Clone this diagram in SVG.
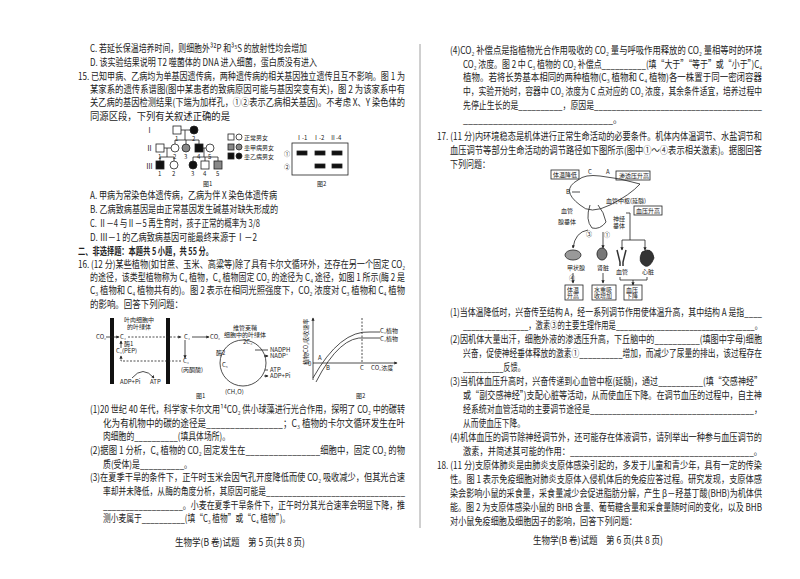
<svg xmlns="http://www.w3.org/2000/svg" width="800" height="579" viewBox="0 0 800 579">
<style>
text{font-family:"Noto Sans CJK SC","Liberation Serif",serif;font-size:10px;fill:#222}
.s{font-size:7px}
.t{font-size:6px}
.b{font-weight:bold}
line,path,rect,circle,polyline{stroke:#222;fill:none;stroke-width:0.8}
.f{fill:#111}
.g{fill:#888}
.bar{stroke:#111;stroke-width:4}
.d{stroke-dasharray:2 1.5}
</style>
<defs><marker id="a" viewBox="0 0 6 6" refX="5" refY="3" markerWidth="4" markerHeight="4" orient="auto"><path d="M0,0L6,3L0,6z" style="fill:#222;stroke:none"/></marker></defs>
<rect x="0" y="0" width="800" height="579" style="fill:#fff;stroke:none"/>
<line x1="420" y1="44" x2="420" y2="528" style="stroke:#888"/>
<g id="left-text">
<text x="90" y="52" textLength="217" lengthAdjust="spacingAndGlyphs">C. 若延长保温培养时间，则细胞外³²P 和³⁵S 的放射性均会增加</text>
<text x="90" y="66" textLength="227" lengthAdjust="spacingAndGlyphs">D. 该实验结果说明 T2 噬菌体的 DNA 进入细菌，蛋白质没有进入</text>
<text x="78" y="80" textLength="327" lengthAdjust="spacingAndGlyphs">15. 已知甲病、乙病均为单基因遗传病，两种遗传病的相关基因独立遗传且互不影响。图 1 为</text>
<text x="90" y="93" textLength="315" lengthAdjust="spacingAndGlyphs">某家系的遗传系谱图(图中某患者的致病原因可能与基因突变有关)，图 2 为该家系中有</text>
<text x="90" y="106" textLength="315" lengthAdjust="spacingAndGlyphs">关乙病的基因检测结果(下端为加样孔，①②表示乙病相关基因)。不考虑 X、Y 染色体的</text>
<text x="90" y="120" textLength="140" lengthAdjust="spacingAndGlyphs">同源区段，下列有关叙述正确的是</text>
<text x="90" y="199" textLength="187" lengthAdjust="spacingAndGlyphs">A. 甲病为常染色体遗传病，乙病为伴 X 染色体遗传病</text>
<text x="90" y="213" textLength="188" lengthAdjust="spacingAndGlyphs">B. 乙病致病基因是由正常基因发生碱基对缺失形成的</text>
<text x="90" y="227" textLength="170" lengthAdjust="spacingAndGlyphs">C. Ⅱ－4 与Ⅱ－5 再生育时，孩子正常的概率为 3/8</text>
<text x="90" y="241" textLength="167" lengthAdjust="spacingAndGlyphs">D. Ⅲ－1 的乙病致病基因可能最终来源于Ⅰ－2</text>
<text class="b" x="78" y="255" textLength="135" lengthAdjust="spacingAndGlyphs">二、非选择题：本题共 5 小题，共 55 分。</text>
<text x="78" y="268" textLength="327" lengthAdjust="spacingAndGlyphs">16. (12 分)某些植物(如甘蔗、玉米、高粱等)除了具有卡尔文循环外，还存在另一个固定 CO₂</text>
<text x="90" y="281" textLength="315" lengthAdjust="spacingAndGlyphs">的途径，该类型植物称为 C₄ 植物，C₄ 植物固定 CO₂ 的途径为 C₄ 途径，如图 1 所示(酶 2 是</text>
<text x="90" y="294" textLength="315" lengthAdjust="spacingAndGlyphs">C₃ 植物和 C₄ 植物共有的)。图 2 表示在相同光照强度下，CO₂ 浓度对 C₃ 植物和 C₄ 植物</text>
<text x="90" y="308" textLength="93" lengthAdjust="spacingAndGlyphs">的影响。回答下列问题：</text>
<text x="90" y="413" textLength="315" lengthAdjust="spacingAndGlyphs">(1)20 世纪 40 年代，科学家卡尔文用¹⁴CO₂ 供小球藻进行光合作用，探明了 CO₂ 中的碳转</text>
<text x="103" y="427" textLength="302" lengthAdjust="spacingAndGlyphs">化为有机物中的碳的途径是________________；C₃ 植物的卡尔文循环发生在叶</text>
<text x="103" y="440" textLength="127" lengthAdjust="spacingAndGlyphs">肉细胞的__________(填具体场所)。</text>
<text x="90" y="454" textLength="315" lengthAdjust="spacingAndGlyphs">(2)据图 1 分析，C₄ 植物的 CO₂ 固定发生在________________细胞中，固定 CO₂ 的物</text>
<text x="103" y="468" textLength="89" lengthAdjust="spacingAndGlyphs">质(受体)是__________。</text>
<text x="90" y="481" textLength="315" lengthAdjust="spacingAndGlyphs">(3)在夏季干旱的条件下，正午时玉米会因气孔开度降低而使 CO₂ 吸收减少，但其光合速</text>
<text x="103" y="495" textLength="302" lengthAdjust="spacingAndGlyphs">率却并未降低，从酶的角度分析，其原因可能是________________________________</text>
<text x="103" y="509" textLength="302" lengthAdjust="spacingAndGlyphs">__________________。小麦在夏季干旱条件下，正午时分其光合速率会明显下降，推</text>
<text x="103" y="522" textLength="187" lengthAdjust="spacingAndGlyphs">测小麦属于__________(填“C₃ 植物”或“C₄ 植物”)。</text>
<text x="175" y="546" textLength="130" lengthAdjust="spacingAndGlyphs">生物学(B 卷)试题　第 5 页(共 8 页)</text>
</g>
<g id="pedigree">
<text class="s" x="146" y="133">Ⅰ</text><text class="s" x="146" y="151">Ⅱ</text><text class="s" x="146" y="169">Ⅲ</text>
<line x1="181" y1="130" x2="190" y2="130"/><line x1="185" y1="130" x2="185" y2="140"/><line x1="175" y1="140" x2="199" y2="140"/>
<line x1="175" y1="140" x2="175" y2="144"/><line x1="186" y1="140" x2="186" y2="144"/><line x1="199" y1="140" x2="199" y2="144"/>
<line x1="164" y1="148" x2="171" y2="148"/><line x1="167" y1="148" x2="167" y2="157"/><line x1="160" y1="157" x2="174" y2="157"/><line x1="160" y1="157" x2="160" y2="161"/><line x1="174" y1="157" x2="174" y2="161"/>
<line x1="203" y1="148" x2="206" y2="148"/><line x1="204" y1="148" x2="204" y2="157"/><line x1="193" y1="157" x2="218" y2="157"/><line x1="193" y1="157" x2="193" y2="161"/><line x1="205" y1="157" x2="205" y2="161"/><line x1="218" y1="157" x2="218" y2="161"/>
<rect x="173" y="126" width="8" height="8"/><circle class="f" cx="194" cy="130" r="4"/>
<rect x="156" y="144" width="8" height="8"/><circle cx="175" cy="148" r="4"/><circle class="g" cx="186" cy="148" r="4"/><rect class="f" x="195" y="144" width="8" height="8"/><circle cx="210" cy="148" r="4"/>
<rect class="f" x="156" y="161" width="8" height="8"/><circle cx="174" cy="165" r="4"/><circle class="f" cx="193" cy="165" r="4"/><rect x="201" y="161" width="8" height="8"/><rect class="g" x="214" y="161" width="8" height="8"/>
<text class="t" x="175" y="141">1</text><text class="t" x="192" y="141">2</text>
<text class="t" x="158" y="159">1</text><text class="t" x="173" y="159">2</text><text class="t" x="184" y="159">3</text><text class="t" x="197" y="159">4</text><text class="t" x="208" y="159">5</text>
<text class="t" x="158" y="176">1</text><text class="t" x="172" y="176">2</text><text class="t" x="191" y="176">3</text><text class="t" x="203" y="176">4</text><text class="t" x="216" y="176">5</text>
<rect x="228" y="134" width="6" height="6"/><circle cx="239" cy="137" r="3"/><text class="t" x="244" y="140">正常男女</text>
<rect class="g" x="228" y="144" width="6" height="6"/><circle class="g" cx="239" cy="147" r="3"/><text class="t" x="244" y="150">患甲病男女</text>
<rect class="f" x="228" y="153" width="6" height="6"/><circle class="f" cx="239" cy="156" r="3"/><text class="t" x="244" y="159">患乙病男女</text>
<text class="t" x="203" y="186">图1</text>
</g>
<g id="gel">
<rect x="292" y="143" width="56" height="32"/>
<text class="t" x="296" y="140">Ⅰ-1</text><text class="t" x="313" y="140">Ⅰ-2</text><text class="t" x="330" y="140">Ⅱ-4</text>
<text class="t" x="284" y="156">①</text><text class="t" x="284" y="169">②</text>
<rect class="f" x="297" y="151" width="10" height="4"/><rect class="f" x="315" y="151" width="10" height="4"/><rect class="f" x="332" y="151" width="10" height="4"/>
<rect class="f" x="315" y="164" width="10" height="4"/><rect class="f" x="332" y="164" width="10" height="4"/>
<text class="t" x="317" y="186">图2</text>
</g>
<g id="c4-fig">
<line class="bar" x1="112" y1="318" x2="112" y2="384"/><line class="bar" x1="168" y1="318" x2="168" y2="384"/>
<text class="t" x="124" y="322">叶肉细胞中</text><text class="t" x="127" y="329">的叶绿体</text>
<text class="t" x="96" y="339">CO₂</text><line x1="106" y1="337" x2="119" y2="337" marker-end="url(#a)"/>
<text class="t" x="120" y="339">C₄</text><line class="d" x1="128" y1="337" x2="181" y2="337" marker-end="url(#a)"/>
<text class="t" x="184" y="339">C₄</text><line x1="192" y1="337" x2="209" y2="337" marker-end="url(#a)"/>
<text class="t" x="124" y="346">酶1</text><text class="t" x="116" y="353">C₃(PEP)</text>
<line x1="121" y1="348" x2="121" y2="341" marker-end="url(#a)"/>
<line x1="185" y1="340" x2="185" y2="358" marker-end="url(#a)"/>
<text class="t" x="183" y="363">C₃</text><text class="t" x="181" y="372">(丙酮酸)</text>
<polyline class="d" points="181,361 121,361 121,356" marker-end="url(#a)"/>
<path d="M132,378 Q143,365 154,378" marker-end="url(#a)"/>
<text class="t" x="120" y="384">ADP+Pi</text><text class="t" x="150" y="384">ATP</text>
<text class="t" x="233" y="330">维管束鞘</text><text class="t" x="224" y="337">细胞中的叶绿体</text>
<text class="t" x="210" y="339">CO₂</text>
<circle cx="243" cy="363" r="23"/>
<text class="t" x="243" y="344">2C₃</text><text class="t" x="216" y="355">酶2</text><text class="t" x="222" y="367">C₅</text>
<text class="t" x="225" y="394">(CH₂O)</text>
<line x1="255" y1="350" x2="268" y2="350"/><text class="t" x="270" y="352">NADPH</text>
<line x1="264" y1="356" x2="268" y2="356" marker-end="url(#a)"/><text class="t" x="270" y="358">NADP⁺</text>
<line x1="265" y1="370" x2="268" y2="370"/><text class="t" x="270" y="372">ATP</text>
<line x1="264" y1="376" x2="268" y2="376" marker-end="url(#a)"/><text class="t" x="270" y="378">ADP+Pi</text>
<text class="t" x="196" y="398">图1</text>
</g>
<g id="graph">
<line x1="313" y1="380" x2="313" y2="318" marker-end="url(#a)"/>
<line x1="313" y1="363" x2="397" y2="363" marker-end="url(#a)"/>
<text class="t" transform="translate(308,365) rotate(-90)">植物CO₂吸收速率</text>
<text class="t" x="308" y="366">0</text>
<path d="M313,378 Q340,330 370,332 L380,332"/>
<path d="M316,382 Q340,335 365,338 L380,338"/>
<line class="d" x1="362" y1="318" x2="362" y2="363"/>
<text class="t" x="380" y="333">C₃植物</text><text class="t" x="380" y="341">C₄植物</text>
<text class="t" x="318" y="360">A</text><text class="t" x="326" y="370">B</text><text class="t" x="360" y="370">C</text><text class="t" x="371" y="370">CO₂浓度</text>
<text class="t" x="356" y="398">图2</text>
</g>
<g id="right-text">
<text x="450" y="54" textLength="312" lengthAdjust="spacingAndGlyphs">(4)CO₂ 补偿点是指植物光合作用吸收的 CO₂ 量与呼吸作用释放的 CO₂ 量相等时的环境</text>
<text x="463" y="68" textLength="299" lengthAdjust="spacingAndGlyphs">CO₂ 浓度。图 2 中 C₃ 植物的 CO₂ 补偿点__________(填“大于”“等于”或“小于”)C₄</text>
<text x="463" y="81" textLength="299" lengthAdjust="spacingAndGlyphs">植物。若将长势基本相同的两种植物(C₃ 植物和 C₄ 植物)各一株置于同一密闭容器</text>
<text x="463" y="95" textLength="299" lengthAdjust="spacingAndGlyphs">中，实验开始时，容器中 CO₂ 浓度为 C 点对应的 CO₂ 浓度，其余条件适宜，培养过程中</text>
<text x="463" y="109" textLength="299" lengthAdjust="spacingAndGlyphs">先停止生长的是__________，原因是______________________________________</text>
<text x="463" y="123" textLength="159" lengthAdjust="spacingAndGlyphs">______________________________。</text>
<text x="437" y="140" textLength="325" lengthAdjust="spacingAndGlyphs">17. (11 分)内环境稳态是机体进行正常生命活动的必要条件。机体内体温调节、水盐调节和</text>
<text x="450" y="154" textLength="312" lengthAdjust="spacingAndGlyphs">血压调节等部分生命活动的调节路径如下图所示(图中①～④表示相关激素)。据图回答</text>
<text x="450" y="168" textLength="40" lengthAdjust="spacingAndGlyphs">下列问题：</text>
<text x="450" y="316" textLength="312" lengthAdjust="spacingAndGlyphs">(1)当体温降低时，兴奋传至结构 A，经一系列调节作用使体温升高，其中结构 A 是指____</text>
<text x="463" y="329" textLength="299" lengthAdjust="spacingAndGlyphs">________________，激素③的主要生理作用是__________________________________。</text>
<text x="450" y="343" textLength="312" lengthAdjust="spacingAndGlyphs">(2)因机体大量出汗，细胞外液的渗透压升高，下丘脑中的__________(填图中字母)细胞</text>
<text x="463" y="357" textLength="299" lengthAdjust="spacingAndGlyphs">兴奋，促使神经垂体释放的激素①__________增加，而减少了尿量的排出，该过程存在</text>
<text x="463" y="371" textLength="62" lengthAdjust="spacingAndGlyphs">__________反馈。</text>
<text x="450" y="385" textLength="312" lengthAdjust="spacingAndGlyphs">(3)当机体血压升高时，兴奋传递到心血管中枢(延髓)，通过__________(填“交感神经”</text>
<text x="463" y="399" textLength="299" lengthAdjust="spacingAndGlyphs">或“副交感神经”)支配心脏等活动，从而使血压下降。在调节血压的过程中，自主神</text>
<text x="463" y="413" textLength="299" lengthAdjust="spacingAndGlyphs">经系统对血管活动的主要调节途径是_____________________________________，</text>
<text x="463" y="427" textLength="62" lengthAdjust="spacingAndGlyphs">从而使血压下降。</text>
<text x="450" y="441" textLength="312" lengthAdjust="spacingAndGlyphs">(4)机体血压的调节除神经调节外，还可能存在体液调节，请列举出一种参与血压调节的</text>
<text x="463" y="455" textLength="299" lengthAdjust="spacingAndGlyphs">激素，并简述其可能的作用：________________________________________。</text>
<text x="437" y="469" textLength="325" lengthAdjust="spacingAndGlyphs">18. (11 分)支原体肺炎是由肺炎支原体感染引起的，多发于儿童和青少年，具有一定的传染</text>
<text x="450" y="483" textLength="312" lengthAdjust="spacingAndGlyphs">性。图 1 表示免疫细胞对肺炎支原体入侵机体后的免疫应答过程。研究发现，支原体感</text>
<text x="450" y="497" textLength="312" lengthAdjust="spacingAndGlyphs">染会影响小鼠的采食量，采食量减少会促进脂肪分解，产生 β－羟基丁酸(BHB)为机体供</text>
<text x="450" y="511" textLength="312" lengthAdjust="spacingAndGlyphs">能。图 2 为支原体感染小鼠的 BHB 含量、葡萄糖含量和采食量随时间的变化，以及 BHB</text>
<text x="450" y="525" textLength="187" lengthAdjust="spacingAndGlyphs">对小鼠免疫细胞及细胞因子的影响，回答下列问题：</text>
<text x="533" y="544" textLength="130" lengthAdjust="spacingAndGlyphs">生物学(B 卷)试题　第 6 页(共 8 页)</text>
</g>
<g id="regulation-fig">
<rect x="551" y="170" width="28" height="9"/><text class="t" x="553" y="177">体温降低</text>
<rect x="616" y="171" width="34" height="9"/><text class="t" x="619" y="178">渗透压升高</text>
<text class="t" x="588" y="174">C</text><text class="t" x="606" y="174">A</text><text class="t" x="566" y="194">B</text>
<path d="M578,180 Q560,190 580,205 Q590,215 610,205 Q630,195 640,184 Q620,178 600,176 Q585,174 578,180z"/>
<line x1="572" y1="192" x2="580" y2="192"/>
<text class="t" x="606" y="203">血管中枢(延髓)</text>
<rect x="634" y="206" width="28" height="9"/><text class="t" x="636" y="213">血压升高</text>
<text class="t" x="561" y="213">血管</text><text class="t" x="558" y="224">腺垂体</text><text class="t" x="613" y="221">神经</text><text class="t" x="613" y="228">垂体</text>
<path d="M590,205 Q585,220 592,228 Q600,230 606,222 Q604,212 598,205"/>
<text class="t" x="586" y="236">③</text><text class="t" x="604" y="237">①</text>
<path d="M588,230 Q575,232 573,248" marker-end="url(#a)"/>
<line x1="603" y1="232" x2="603" y2="248" marker-end="url(#a)"/>
<polyline points="626,213 630,213 630,240 622,240 622,250" marker-end="url(#a)"/>
<line x1="630" y1="240" x2="645" y2="240"/><line x1="645" y1="240" x2="645" y2="250" marker-end="url(#a)"/>
<ellipse cx="573" cy="255" rx="8" ry="5" style="fill:#999;stroke:#444"/>
<ellipse cx="602" cy="254" rx="5" ry="6" style="fill:#777;stroke:#333"/>
<path d="M617,250 L620,262 L620,266 M626,250 L623,262 L623,266" style="stroke:#333;stroke-width:1.5"/>
<path d="M642,252 Q652,246 654,258 Q650,268 645,266 Q637,262 642,252z" style="fill:#333"/>
<text class="t" x="567" y="270">甲状腺</text><text class="t" x="597" y="270">肾脏</text><text class="t" x="616" y="274">血管</text><text class="t" x="642" y="274">心脏</text>
<line x1="573" y1="273" x2="573" y2="283" marker-end="url(#a)"/><text class="t" x="569" y="280">④</text>
<line x1="603" y1="273" x2="603" y2="283" marker-end="url(#a)"/>
<polyline points="620,277 620,280 647,280 647,277"/><line x1="633" y1="280" x2="633" y2="285" marker-end="url(#a)"/>
<rect x="565" y="285" width="18" height="15"/><text class="t" x="567" y="292">体温</text><text class="t" x="567" y="298">升高</text>
<rect x="592" y="285" width="24" height="15"/><text class="t" x="594" y="292">水重吸</text><text class="t" x="594" y="298">收增加</text>
<rect x="624" y="285" width="18" height="15"/><text class="t" x="626" y="292">血压</text><text class="t" x="626" y="298">下降</text>
</g>
</svg>
